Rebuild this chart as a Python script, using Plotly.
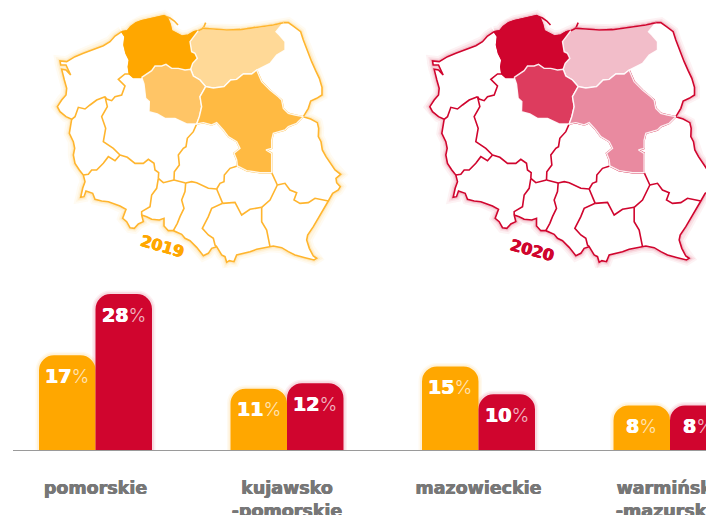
import plotly.graph_objects as go

W, H = 706, 515

# ---------- bar data ----------
REGIONS = ["pomorskie", "kujawsko<br>-pomorskie", "mazowieckie", "warmińsko<br>-mazurskie"]
SHARE_2019 = [17, 11, 15, 8]
SHARE_2020 = [28, 12, 10, 8]
YEARS = ["2019", "2020"]

# ---------- map outline data (arcs between region junctions, map units) ----------
o_pom = [(245,95),(262,92),(272,80),(288,68),(305,62),(330,57),(350,52),(372,47),(383,55),(390,72),(395,92),(410,100),(425,108),(445,105),(462,95),(475,92)]
o_warm = [(475,92),(490,85),(520,87),(560,90),(600,89),(650,83),(700,75),(730,68)]
o_podl = [(730,68),(745,68),(762,80),(782,95),(790,120),(803,155),(815,185),(827,212),(838,235),(846,262),(846,285),(830,295),(812,303),(805,325),(795,345),(790,350)]
o_lub = [(790,350),(812,357),(832,368),(836,385),(835,410),(843,425),(847,450),(858,470),(872,490),(885,510),(902,523),(888,535),(890,548),(901,560),(895,570),(878,580),(865,603)]
o_podk = [(865,603),(850,630),(835,655),(820,680),(803,705),(800,720),(808,745),(820,768),(830,775),(822,780),(795,773),(765,765),(745,755),(725,743),(700,738),(690,740)]
o_mal = [(690,740),(670,745),(650,748),(630,755),(605,760),(590,765),(582,785),(568,782),(560,787),(555,770),(545,765),(530,740)]
o_sl = [(530,740),(515,745),(505,760),(490,767),(480,755),(470,742),(450,722),(435,715),(425,703),(400,692)]
o_op = [(400,692),(385,692),(372,678),(372,655),(358,660),(335,658),(320,650),(305,645)]
o_dol = [(305,645),(310,665),(295,672),(283,685),(270,683),(260,665),(248,655),(258,628),(240,618),(222,612),(205,605),(185,603),(165,598),(158,580),(138,573),(132,590),(122,592),(128,565),(135,545),(130,525)]
o_lubu = [(130,525),(118,510),(105,490),(100,465),(104,445),(100,425),(88,400),(92,380),(95,358)]
o_zp = [(95,358),(78,350),(60,335),(52,320),(65,300),(78,285),(80,265),(73,240),(65,208),(78,210),(92,225),(85,210),(78,195),(62,195),(60,183),(80,185),(105,170),(130,160),(160,148),(190,137),(210,125),(225,108),(245,95)]
hel = [(372,47),(390,54),(403,63),(414,75)]
spit = [(468,100),(483,90),(492,80),(497,68)]

a_zp_pom = [(245,95),(255,110),(252,135),(258,160),(268,180),(265,200),(268,222)]
a_pom_wlkp = [(268,222),(280,232),(305,232)]
a_pom_kuj = [(305,232),(320,222),(335,212),(345,198),(365,198),(378,193),(395,205),(415,205),(435,210),(452,208)]
a_pom_warm = [(452,208),(458,190),(472,175),(465,160),(455,155),(450,125),(462,110),(475,92)]
a_zp_wlkp = [(268,222),(255,222),(235,238),(255,258),(245,285),(225,290),(215,302),(200,297),(195,290)]
a_zp_lubu = [(195,290),(170,300),(150,315),(135,327),(115,322),(105,350),(95,358)]
a_lubu_wlkp = [(195,290),(202,320),(185,350),(197,385),(190,425),(205,435),(220,445),(240,465)]
a_lubu_dol = [(240,465),(225,482),(205,470),(190,490),(170,510),(155,510),(145,523),(130,525)]
a_wlkp_dol = [(240,465),(262,472),(285,490),(310,490),(325,478),(342,490),(345,510),(356,518),(355,535)]
a_wlkp_op = [(355,535),(370,548),(402,540)]
a_wlkp_lodz = [(402,540),(403,515),(418,495),(415,465),(430,445),(438,440),(442,415),(460,395),(470,372)]
a_kuj_wlkp = [(305,232),(312,252),(317,295),(328,305),(327,335),(352,342),(375,355),(405,355),(440,372),(470,372)]
a_kuj_warm = [(452,208),(460,228),(480,240),(497,260)]
a_kuj_maz = [(497,260),(480,290),(485,320),(478,350),(470,372)]
a_warm_maz = [(497,260),(520,264),(552,260),(572,240),(590,238),(610,222),(635,222),(650,210)]
a_warm_podl = [(650,210),(690,190),(710,165),(735,150),(735,125),(718,105),(708,95),(730,68)]
a_podl_maz = [(650,210),(665,245),(690,270),(715,290),(725,300),(730,325),(745,340),(765,345),(790,350)]
a_maz_lub = [(790,350),(770,370),(745,380),(735,390),(700,400),(695,420),(695,445),(678,450),(695,460),(695,518)]
a_maz_swk = [(695,518),(660,518),(620,512),(592,498)]
a_maz_lodz = [(470,372),(490,368),(515,375),(530,368),(550,390),(565,410),(590,425),(600,445),(582,460),(590,480),(592,498)]
a_lodz_swk = [(592,498),(570,505),(553,525),(552,545),(540,550),(530,567)]
a_lodz_sl = [(530,567),(505,565),(470,548),(455,545),(437,549)]
a_lodz_op = [(437,549),(420,545),(402,540)]
a_op_sl = [(437,549),(435,575),(425,600),(432,625),(420,650),(412,670),(400,692)]
a_op_dol = [(355,535),(350,565),(335,585),(330,620),(305,635),(305,645)]
a_sl_swk = [(530,567),(540,590),(548,610)]
a_sl_mal = [(548,610),(515,625),(505,650),(487,685),(505,705),(520,715),(525,735),(530,740)]
a_swk_mal = [(548,610),(585,607),(605,645),(630,628),(665,622)]
a_swk_podk = [(665,622),(690,600),(712,555)]
a_swk_lub = [(695,518),(712,555)]
a_lub_podk = [(712,555),(735,550),(750,570),(770,578),(762,600),(780,610),(805,608),(825,595),(865,603)]
a_mal_podk = [(665,622),(665,665),(680,690),(690,740)]

OUTER = [o_pom, o_warm, o_podl, o_lub, o_podk, o_mal, o_sl, o_op, o_dol, o_lubu, o_zp]
INNER = [a_zp_pom, a_pom_wlkp, a_zp_wlkp, a_zp_lubu, a_lubu_wlkp, a_lubu_dol, a_wlkp_dol, a_wlkp_op,
         a_wlkp_lodz, a_maz_lodz, a_lodz_swk, a_lodz_sl, a_lodz_op, a_op_sl, a_op_dol, a_sl_swk, a_sl_mal,
         a_swk_mal, a_swk_podk, a_swk_lub, a_lub_podk, a_mal_podk, a_maz_lub, a_maz_swk, a_podl_maz]

def rev(a):
    return a[::-1]

POMORSKIE = o_pom + rev(a_pom_warm) + rev(a_pom_kuj) + rev(a_pom_wlkp) + rev(a_zp_pom)
WARMINSKO = o_warm + rev(a_warm_podl) + rev(a_warm_maz) + rev(a_kuj_warm) + a_pom_warm
KUJAWSKO = a_pom_kuj + a_kuj_warm + a_kuj_maz + rev(a_kuj_wlkp)
MAZOWIECKIE = a_warm_maz + a_podl_maz + a_maz_lub + a_maz_swk + rev(a_maz_lodz) + rev(a_kuj_maz)
COUNTRY = [p for arc in OUTER for p in arc]

# ---------- styles ----------
ORANGE, RED = "#FFA700", "#D0052E"
STYLE = {
    "2019": dict(c=ORANGE, line="#FFB52E", glow="255,167,0", warm="#FFD997", kuj="#FFC566", maz="#FFBA42",
                 ax=("x2", "y2"), label=(368, 740), angle=16),
    "2020": dict(c=RED, line="#D0052E", glow="208,5,46", warm="#F2BDC9", kuj="#DD3C5E", maz="#E98AA0",
                 ax=("x3", "y3"), label=(361, 750), angle=15),
}
HEAVY = "DejaVu Sans"

def thick(color, d=0.5):
    return f"{d}px 0 0 {color},-{d}px 0 0 {color}"

fig = go.Figure()

def path(arc, xa, ya, color, width, fill=None, close=False):
    pts = arc + arc[:1] if close else arc
    fig.add_trace(go.Scatter(
        x=[p[0] for p in pts], y=[p[1] for p in pts], mode="lines", xaxis=xa, yaxis=ya,
        line=dict(color=color, width=width), fill="toself" if fill else "none",
        fillcolor=fill, hoverinfo="skip", showlegend=False))

for yr in YEARS:
    s = STYLE[yr]
    xa, ya = s["ax"]
    for w, a in ((11, 0.05), (7, 0.07), (4, 0.12)):
        path(COUNTRY, xa, ya, f"rgba({s['glow']},{a})", w, close=True)
    path(COUNTRY, xa, ya, s["line"], 1.6, fill="white", close=True)
    for arc in INNER + [hel, spit]:
        path(arc, xa, ya, s["line"], 1.6)
    path(POMORSKIE, xa, ya, s["c"], 1.2, fill=s["c"], close=True)
    path(WARMINSKO, xa, ya, "rgba(255,255,255,0.9)", 1.4, fill=s["warm"], close=True)
    path(KUJAWSKO, xa, ya, "rgba(255,255,255,0.9)", 1.4, fill=s["kuj"], close=True)
    path(MAZOWIECKIE, xa, ya, "rgba(255,255,255,0.9)", 1.4, fill=s["maz"], close=True)
    path(o_warm, xa, ya, s["line"], 1.6)
    fig.add_annotation(x=s["label"][0], y=s["label"][1], xref=xa, yref=ya, text=f"<b>{yr}</b>",
                       textangle=s["angle"], showarrow=False,
                       font=dict(family=HEAVY, size=16, color=s["c"], shadow=thick(s["c"])))

# ---------- bars ----------
OFFSET = 0.1475
BAR_W = 0.295
idx = list(range(len(REGIONS)))
series = [(SHARE_2019, -OFFSET, ORANGE, "255,167,0"), (SHARE_2020, OFFSET, RED, "208,5,46")]
for vals, off, col, glow in series:
    xs = [i + off for i in idx]
    for w, a in ((7, 0.06), (4, 0.09)):
        fig.add_trace(go.Bar(x=xs, y=vals, width=BAR_W, marker=dict(color="rgba(0,0,0,0)", cornerradius=15,
                      line=dict(color=f"rgba({glow},{a})", width=w)), hoverinfo="skip", showlegend=False))
for vals, off, col, glow in series:
    xs = [i + off for i in idx]
    fig.add_trace(go.Bar(x=xs, y=vals, width=BAR_W, marker=dict(color=col, cornerradius=15, line=dict(width=0)),
                         showlegend=False, hoverinfo="skip"))
    for x, v in zip(xs, vals):
        fig.add_annotation(x=x, y=v, xref="x", yref="y", yshift=-21, showarrow=False,
                           text=f'<b>{v}</b><span style="font-family:Inter;font-weight:300;color:rgba(255,255,255,0.72);text-shadow:none">%</span>',
                           font=dict(family=HEAVY, size=19, color="white", shadow=thick("white")))

PX_PER_PCT = 5.57
PITCH = 191.5
X0 = 95.5
fig.update_layout(
    width=W, height=H, margin=dict(l=0, r=0, t=0, b=0), autosize=False,
    paper_bgcolor="white", plot_bgcolor="rgba(0,0,0,0)", barmode="overlay", showlegend=False,
    xaxis=dict(domain=[13 / W, 1], range=[(13 - X0) / PITCH, (W - X0) / PITCH], tickvals=idx, ticktext=REGIONS,
               showgrid=False, zeroline=False, showline=True, linecolor="#9A9A9A", linewidth=1.4,
               ticks="", ticklabelstandoff=22, tickangle=0, automargin=False, ticklabeloverflow="allow",
               tickfont=dict(family=HEAVY, size=17.5, color="#777777", weight=700, shadow=thick("#777777", 0.4))),
    yaxis=dict(domain=[(H - 450) / H, 1], range=[0, 450 / PX_PER_PCT], visible=False, automargin=False),
    xaxis2=dict(domain=[40 / W, 360 / W], range=[0, 960], visible=False, automargin=False),
    yaxis2=dict(domain=[(H - 275) / H, 1], range=[825, 0], visible=False, automargin=False),
    xaxis3=dict(domain=[412.5 / W, 1], range=[0, (W - 412.5) * 3], visible=False, automargin=False),
    yaxis3=dict(domain=[(H - 275) / H, 1], range=[825, 0], visible=False, automargin=False),
)
NO_PAGE_MARGIN = "document.body.style.margin='0';document.documentElement.style.overflow='hidden';"
fig.write_html("out.html", config=dict(displayModeBar=False), post_script=NO_PAGE_MARGIN)
